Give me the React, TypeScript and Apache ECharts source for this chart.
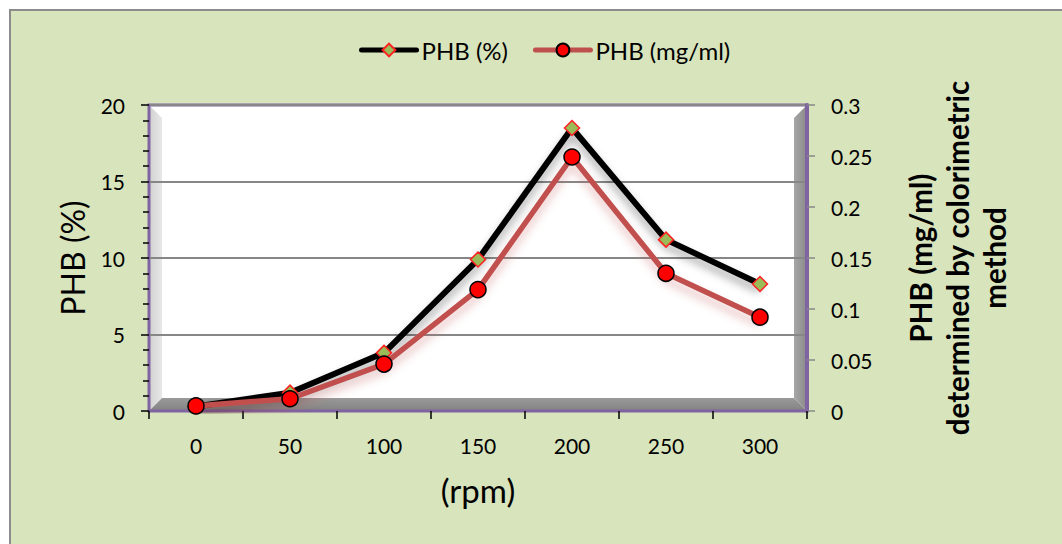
import React, { useEffect, useRef } from "react";
import * as echarts from "echarts";

// ---- data ----
const categories: string[] = ["0", "50", "100", "150", "200", "250", "300"];
const phbPercent: number[] = [0.3, 1.2, 3.8, 9.9, 18.5, 11.2, 8.3];
const phbMgMl: number[] = [0.005, 0.012, 0.046, 0.119, 0.249, 0.135, 0.092];
const leftAxisRange = { min: 0, max: 20, interval: 5 };
const rightAxisRange = { min: 0, max: 0.3, interval: 0.05 };
const seriesNames = ["PHB (%)", "PHB (mg/ml)"];
const xAxisTitle = "(rpm)";
const leftAxisTitle = "PHB (%)";
const rightAxisTitle = "PHB (mg/ml)\ndetermined by colorimetric\nmethod";

// ---- layout ----
const W = 1062;
const H = 544;
const GL = 149; // grid left x
const GT = 105; // grid top y
const GR = 807; // grid right x
const GB = 411; // grid bottom y
const D = 13; // wall depth
const FONT = "Lato, 'Open Sans', sans-serif";
const PURPLE = "#8064a2";

export default function App() {
  const ref = useRef<HTMLDivElement>(null);
  useEffect(() => {
    if (!ref.current) return;
    const chart = echarts.init(ref.current, undefined, { renderer: "svg" });
    const option: any = {
      animation: false,
      backgroundColor: "#ffffff",
      textStyle: { fontFamily: FONT },
      graphic: {
        elements: [
          {
            type: "rect",
            z: -20,
            silent: true,
            shape: { x: 10, y: 10, width: W, height: H },
            style: { fill: "#d8e4bc", stroke: "#8c8c8c", lineWidth: 2 },
          },
          {
            type: "rect",
            z: -15,
            silent: true,
            shape: { x: GL, y: GT, width: GR - GL, height: GB - GT },
            style: { fill: "#ffffff" },
          },
          {
            type: "polygon",
            z: -10,
            silent: true,
            shape: {
              points: [
                [GL, GT],
                [GL + D, GT + D],
                [GL + D, GB - D],
                [GL, GB],
              ],
            },
            style: {
              fill: new echarts.graphic.LinearGradient(0, 0, 1, 0, [
                { offset: 0, color: "#d0d0d0" },
                { offset: 1, color: "#e8e8e8" },
              ]),
            },
          },
          {
            type: "polygon",
            z: -10,
            silent: true,
            shape: {
              points: [
                [GR, GT],
                [GR - D, GT + D],
                [GR - D, GB - D],
                [GR, GB],
              ],
            },
            style: {
              fill: new echarts.graphic.LinearGradient(0, 0, 1, 0, [
                { offset: 0, color: "#a6a6a6" },
                { offset: 1, color: "#8a8a8a" },
              ]),
            },
          },
          {
            type: "polygon",
            z: -10,
            silent: true,
            shape: {
              points: [
                [GL, GB],
                [GL + D, GB - D],
                [GR - D, GB - D],
                [GR, GB],
              ],
            },
            style: {
              fill: new echarts.graphic.LinearGradient(0, 0, 0, 1, [
                { offset: 0, color: "#9a9a9a" },
                { offset: 1, color: "#828282" },
              ]),
            },
          },
        ],
      },
      legend: {
        top: 33,
        left: 354,
        itemWidth: 55,
        itemHeight: 16,
        itemGap: 25,
        lineStyle: { width: 5, cap: "round" },
        textStyle: { fontSize: 24, color: "#000", fontFamily: FONT },
        data: seriesNames,
      },
      grid: {
        left: GL,
        top: GT,
        right: W - GR,
        bottom: H - GB,
        show: true,
        backgroundColor: "transparent",
        borderColor: PURPLE,
        borderWidth: 3,
      },
      xAxis: {
        type: "category",
        data: categories,
        boundaryGap: true,
        name: xAxisTitle,
        nameLocation: "middle",
        nameGap: 62,
        nameTextStyle: { fontSize: 33, color: "#000", fontFamily: FONT },
        axisLine: { show: true, lineStyle: { color: PURPLE, width: 2 } },
        axisTick: { show: true, length: 8, lineStyle: { color: "#000", width: 1.5 } },
        axisLabel: { fontSize: 21, color: "#000", margin: 24, fontFamily: FONT },
        splitLine: { show: false },
      },
      yAxis: [
        {
          type: "value",
          position: "left",
          min: leftAxisRange.min,
          max: leftAxisRange.max,
          interval: leftAxisRange.interval,
          name: leftAxisTitle,
          nameLocation: "middle",
          nameGap: 61,
          nameTextStyle: { fontSize: 32, color: "#000", fontFamily: FONT },
          axisLine: { show: true, lineStyle: { color: PURPLE, width: 2 } },
          axisTick: { show: true, length: 8, lineStyle: { color: "#000", width: 1.5 } },
          minorTick: { show: true, splitNumber: 5, length: 6, lineStyle: { color: "#000", width: 1.5 } },
          axisLabel: { fontSize: 21, color: "#000", margin: 24, fontFamily: FONT },
          splitLine: { show: true, lineStyle: { color: "#878787", width: 2 } },
        },
        {
          type: "value",
          position: "right",
          min: rightAxisRange.min,
          max: rightAxisRange.max,
          interval: rightAxisRange.interval,
          name: rightAxisTitle,
          nameLocation: "middle",
          nameGap: 95,
          nameTextStyle: {
            fontSize: 29.5,
            fontWeight: "bold",
            color: "#000",
            lineHeight: 37,
            align: "center",
            fontFamily: FONT,
          },
          axisLine: { show: true, lineStyle: { color: PURPLE, width: 4 } },
          axisTick: { show: true, length: 8, lineStyle: { color: "#888", width: 1.5 } },
          axisLabel: {
            fontSize: 21,
            color: "#000",
            margin: 24,
            fontFamily: FONT,
            formatter: (v: number) => String(+v.toFixed(2)),
          },
          splitLine: { show: false },
        },
      ],
      series: [
        {
          name: seriesNames[0],
          type: "line",
          yAxisIndex: 0,
          data: phbPercent,
          symbol: "diamond",
          symbolSize: 15,
          z: 4,
          lineStyle: {
            color: "#000000",
            width: 6,
            shadowColor: "rgba(0,0,0,0.35)",
            shadowBlur: 8,
            shadowOffsetY: 6,
          },
          itemStyle: { color: "#9bbb59", borderColor: "#ff2020", borderWidth: 1.5 },
        },
        {
          name: seriesNames[1],
          type: "line",
          yAxisIndex: 1,
          data: phbMgMl,
          symbol: "circle",
          symbolSize: 16,
          z: 5,
          lineStyle: {
            color: "#c0504d",
            width: 5.5,
            shadowColor: "rgba(192,80,77,0.35)",
            shadowBlur: 8,
            shadowOffsetY: 7,
          },
          itemStyle: {
            color: "#ff0000",
            borderColor: "#000000",
            borderWidth: 1.5,
          },
        },
      ],
    };
    chart.setOption(option);
    return () => chart.dispose();
  }, []);
  return (
    <div
      ref={ref}
      style={{ position: "absolute", left: 0, top: 0, width: W, height: H }}
    />
  );
}
